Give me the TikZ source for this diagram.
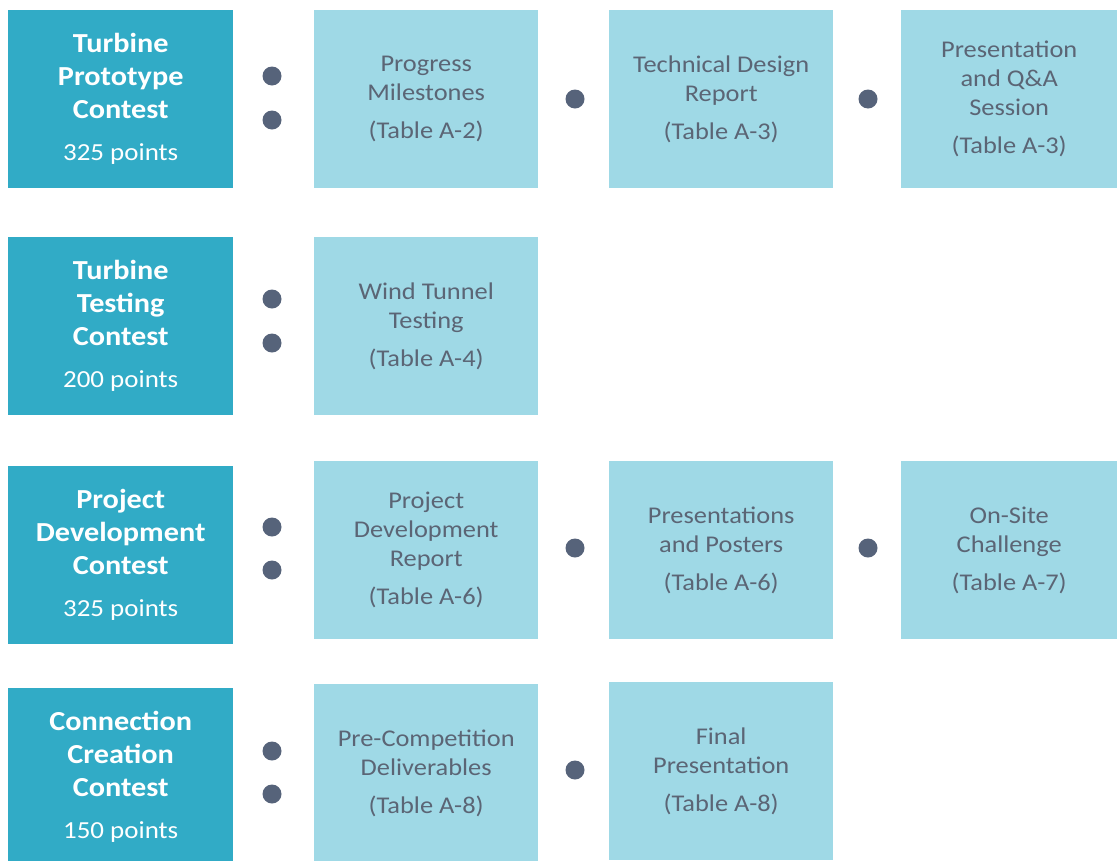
\documentclass[tikz,border=0pt]{standalone}
\usepackage{fontspec}
\setmainfont{Carlito}[FakeStretch=1.1]
\definecolor{contestfill}{HTML}{31ABC6}
\definecolor{taskfill}{HTML}{9FD9E6}
\definecolor{dotfill}{HTML}{56637A}
\definecolor{tasktext}{HTML}{5B6575}
\newcommand\pts[1]{{\fontsize{24.5}{28}\selectfont\mdseries #1}}

\begin{document}
\begin{tikzpicture}[x=1pt, y=-1pt,
  contestbox/.style={fill=contestfill, text=white, anchor=north west, minimum width=225pt, minimum height=178pt, inner sep=0pt, align=center, font=\fontsize{27.5}{33}\selectfont\bfseries},
  taskbox/.style={fill=taskfill, text=tasktext, anchor=north west, minimum width=224pt, minimum height=178pt, inner sep=0pt, align=center, font=\fontsize{24}{29}\selectfont},
  dot/.style={circle, fill=dotfill, minimum size=19pt, inner sep=0pt}]
\clip (0, 0) rectangle (1117, 860);
\node [contestbox] (proto) at (8, 10) {Turbine\\Prototype\\Contest\\[9pt]\pts{325 points}};
\node [taskbox] (milestones) at (314, 10) {Progress\\Milestones\\[9pt](Table A-2)};
\node [taskbox] (design) at (609, 10) {Technical Design\\Report\\[9pt](Table A-3)};
\node [taskbox, minimum width=216pt] (qa) at (901, 10) {Presentation\\and Q\&A\\Session\\[9pt](Table A-3)};
\node [dot] (d1a) at (272, 76) {};
\node [dot] (d1b) at (272, 120) {};
\node [dot] (d1c) at (575, 99) {};
\node [dot] (d1d) at (868, 99) {};

\node [contestbox] (testing) at (8, 237) {Turbine\\Testing\\Contest\\[9pt]\pts{200 points}};
\node [taskbox] (tunnel) at (314, 237) {Wind Tunnel\\Testing\\[9pt](Table A-4)};
\node [dot] (d2a) at (272, 299) {};
\node [dot] (d2b) at (272, 343) {};

\node [contestbox] (project) at (8, 466) {Project\\Development\\Contest\\[9pt]\pts{325 points}};
\node [taskbox] (report) at (314, 461) {Project\\Development\\Report\\[9pt](Table A-6)};
\node [taskbox] (posters) at (609, 461) {Presentations\\and Posters\\[9pt](Table A-6)};
\node [taskbox, minimum width=216pt] (onsite) at (901, 461) {On-Site\\Challenge\\[9pt](Table A-7)};
\node [dot] (d3a) at (272, 527) {};
\node [dot] (d3b) at (272, 570) {};
\node [dot] (d3c) at (575, 548) {};
\node [dot] (d3d) at (868, 548) {};

\node [contestbox] (connection) at (8, 688) {Connection\\Creation\\Contest\\[9pt]\pts{150 points}};
\node [taskbox] (deliverables) at (314, 684) {Pre-Competition\\Deliverables\\[9pt](Table A-8)};
\node [taskbox] (final) at (609, 682) {Final\\Presentation\\[9pt](Table A-8)};
\node [dot] (d4a) at (272, 751) {};
\node [dot] (d4b) at (272, 794) {};
\node [dot] (d4c) at (575, 770) {};
\end{tikzpicture}
\end{document}
